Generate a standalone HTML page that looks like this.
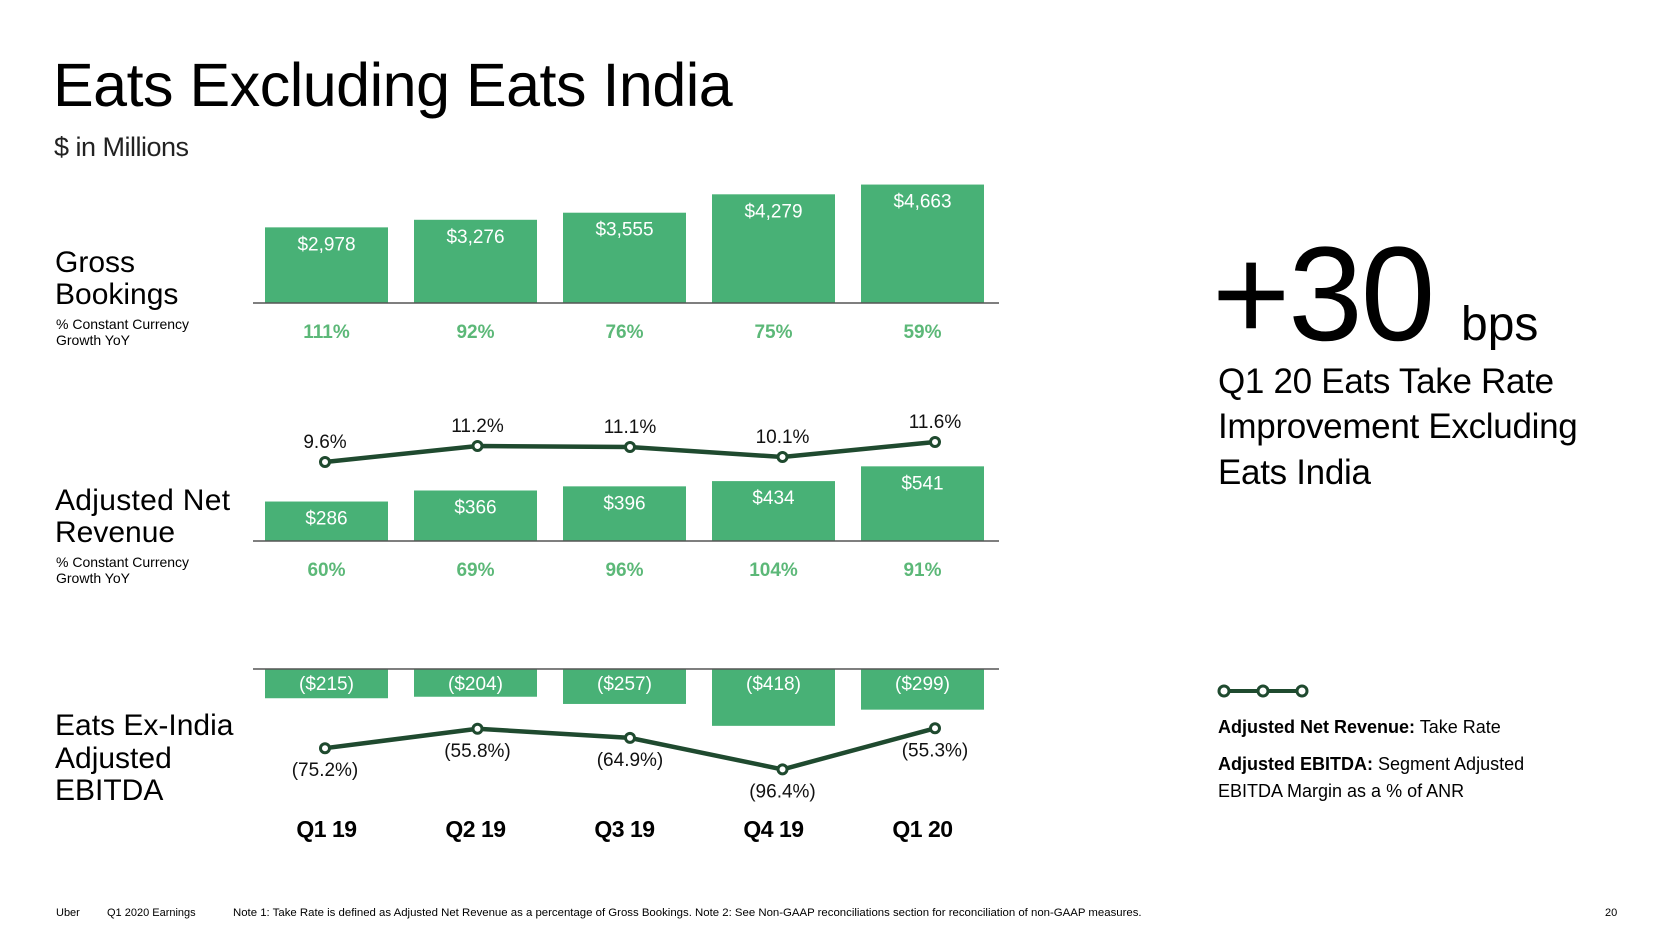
<!DOCTYPE html>
<html><head><meta charset="utf-8">
<style>
html,body{margin:0;padding:0;background:#fff;}
body{width:1658px;height:936px;overflow:hidden;font-family:"Liberation Sans",sans-serif;}
svg text{font-family:"Liberation Sans",sans-serif;}
</style></head>
<body>
<svg id="chart" width="1658" height="936" viewBox="0 0 1658 936" xmlns="http://www.w3.org/2000/svg">
  <text x="53" y="106" font-size="61" letter-spacing="-0.5" fill="#000">Eats Excluding Eats India</text>
  <text x="54" y="156" font-size="27" letter-spacing="-0.5" fill="#222">$ in Millions</text>

  <g fill="#000">
    <text x="55" y="272" font-size="30">Gross</text>
    <text x="55" y="304" font-size="30">Bookings</text>
    <text x="56" y="329" font-size="14">% Constant Currency</text>
    <text x="56" y="345" font-size="14">Growth YoY</text>
    <text x="55" y="510" font-size="30" letter-spacing="0.3">Adjusted Net</text>
    <text x="55" y="542" font-size="30">Revenue</text>
    <text x="56" y="567" font-size="14">% Constant Currency</text>
    <text x="56" y="583" font-size="14">Growth YoY</text>
    <text x="55" y="735" font-size="30">Eats Ex-India</text>
    <text x="55" y="768" font-size="30">Adjusted</text>
    <text x="55" y="800" font-size="30">EBITDA</text>
  </g>

  <g id="plot"></g>

  <g fill="#000">
    <text x="1212" y="340" font-size="134" letter-spacing="-2">+30</text>
    <text x="1461" y="340" font-size="48">bps</text>
    <text x="1218" y="393" font-size="35" letter-spacing="-0.3">Q1 20 Eats Take Rate</text>
    <text x="1218" y="438" font-size="35" letter-spacing="-0.3">Improvement Excluding</text>
    <text x="1218" y="484" font-size="35" letter-spacing="-0.3">Eats India</text>
  </g>

  <g>
    <line x1="1224" y1="691" x2="1302" y2="691" stroke="#1f4a2f" stroke-width="4"/>
    <circle cx="1224" cy="691" r="5" fill="#fff" stroke="#1f4a2f" stroke-width="3"/>
    <circle cx="1263" cy="691" r="5" fill="#fff" stroke="#1f4a2f" stroke-width="3"/>
    <circle cx="1302" cy="691" r="5" fill="#fff" stroke="#1f4a2f" stroke-width="3"/>
    <text x="1218" y="733" font-size="18" fill="#000"><tspan font-weight="bold">Adjusted Net Revenue:</tspan> Take Rate</text>
    <text x="1218" y="770" font-size="18" fill="#000"><tspan font-weight="bold">Adjusted EBITDA:</tspan> Segment Adjusted</text>
    <text x="1218" y="797" font-size="18" fill="#000">EBITDA Margin as a % of ANR</text>
  </g>

  <g fill="#000" font-size="11">
    <text x="56" y="916">Uber</text>
    <text x="107" y="916">Q1 2020 Earnings</text>
    <text x="233" y="916" font-size="11.4">Note 1: Take Rate is defined as Adjusted Net Revenue as a percentage of Gross Bookings. Note 2: See Non-GAAP reconciliations section for reconciliation of non-GAAP measures.</text>
    <text x="1605" y="916">20</text>
  </g>
</svg>
<script>
const quarters = ["Q1 19","Q2 19","Q3 19","Q4 19","Q1 20"];
const grossBookings = [2978,3276,3555,4279,4663];
const gbGrowth = ["111%","92%","76%","75%","59%"];
const anr = [286,366,396,434,541];
const anrGrowth = ["60%","69%","96%","104%","91%"];
const takeRate = [9.6,11.2,11.1,10.1,11.6];
const ebitda = [-215,-204,-257,-418,-299];
const ebitdaMargin = [-75.2,-55.8,-64.9,-96.4,-55.3];

const NS="http://www.w3.org/2000/svg";
const plot=document.getElementById('plot');
const GREEN="#48b176", LGREEN="#5cb878", DARK="#1f4a2f";
function mk(tag,attrs,txt){const e=document.createElementNS(NS,tag);for(const k in attrs)e.setAttribute(k,attrs[k]);if(txt!==undefined)e.textContent=txt;plot.appendChild(e);return e;}
const barLeft=i=>265+i*149, barW=123, barC=i=>barLeft(i)+barW/2;
const ptX=i=>325+i*152.5;
const gbY=v=>303-v*0.0254;
const anrY=v=>541-v*0.138;
const trY=v=>462-(v-9.6)*10;
const ebY=v=>669-v*0.136;
const emY=v=>673-v;
const fmt=v=>"$"+Math.abs(v).toLocaleString("en-US");

grossBookings.forEach((v,i)=>{
  const r=mk('rect',{x:barLeft(i),y:gbY(v),width:barW,height:303-gbY(v),fill:GREEN});
  
  
  const t=mk('text',{x:barC(i),y:gbY(v)+23,'text-anchor':'middle','font-size':19,fill:'#fff'},fmt(v));
  
  
  const g=mk('text',{x:barC(i),y:338,'text-anchor':'middle','font-size':19,'font-weight':'bold',fill:LGREEN},gbGrowth[i]);
  
  
});
const b1=mk('line',{x1:253,y1:303,x2:999,y2:303,stroke:'#555','stroke-width':1.5});



anr.forEach((v,i)=>{
  const r=mk('rect',{x:barLeft(i),y:anrY(v),width:barW,height:541-anrY(v),fill:GREEN});
  
  
  const t=mk('text',{x:barC(i),y:anrY(v)+23,'text-anchor':'middle','font-size':19,fill:'#fff'},fmt(v));
  
  
  const g=mk('text',{x:barC(i),y:576,'text-anchor':'middle','font-size':19,'font-weight':'bold',fill:LGREEN},anrGrowth[i]);
  
  
});
const b2=mk('line',{x1:253,y1:541,x2:999,y2:541,stroke:'#555','stroke-width':1.5});


const tl=mk('polyline',{points:takeRate.map((v,i)=>ptX(i)+","+trY(v)).join(" "),fill:'none',stroke:DARK,'stroke-width':4.5});


takeRate.forEach((v,i)=>{
  const c=mk('circle',{cx:ptX(i),cy:trY(v),r:4.5,fill:'#fff',stroke:DARK,'stroke-width':3});
  
  
  const t=mk('text',{x:ptX(i),y:trY(v)-14,'text-anchor':'middle','font-size':19,fill:'#111'},v.toFixed(1)+"%");
  
  
});

ebitda.forEach((v,i)=>{
  const r=mk('rect',{x:barLeft(i),y:669,width:barW,height:ebY(v)-669,fill:GREEN});
  
  
  const t=mk('text',{x:barC(i),y:690,'text-anchor':'middle','font-size':19,fill:'#fff'},"("+fmt(v)+")");
  
  
});
const b3=mk('line',{x1:253,y1:669,x2:999,y2:669,stroke:'#555','stroke-width':1.5});


const ml=mk('polyline',{points:ebitdaMargin.map((v,i)=>ptX(i)+","+emY(v)).join(" "),fill:'none',stroke:DARK,'stroke-width':4.5});


ebitdaMargin.forEach((v,i)=>{
  const c=mk('circle',{cx:ptX(i),cy:emY(v),r:4.5,fill:'#fff',stroke:DARK,'stroke-width':3});
  
  
  const t=mk('text',{x:ptX(i),y:emY(v)+28,'text-anchor':'middle','font-size':19,fill:'#111'},"("+Math.abs(v).toFixed(1)+"%)");
  
  
});

quarters.forEach((q,i)=>{
  const t=mk('text',{x:barC(i),y:837,'text-anchor':'middle','font-size':23,'font-weight':'bold',fill:'#000','letter-spacing':-0.5},q);
  
  
});
</script>
</body></html>
